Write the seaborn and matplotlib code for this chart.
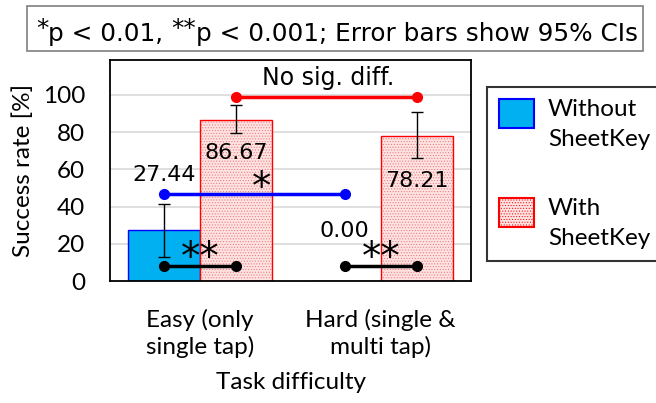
import matplotlib
matplotlib.use("Agg")
import matplotlib.pyplot as plt
import matplotlib.patches as mpatches
import matplotlib.transforms as mtransforms
from matplotlib.legend_handler import HandlerPatch
import seaborn as sns
import pandas as pd

# ---- data ----
categories = ["Easy (only\nsingle tap)", "Hard (single &\nmulti tap)"]
conditions = ["Without\nSheetKey", "With\nSheetKey"]
without_vals = [27.44, 0.00]
with_vals = [86.67, 78.21]
without_ci_low = [12.9, 0.0]
without_ci_high = [41.4, 0.0]
with_ci_low = [79.6, 66.1]
with_ci_high = [94.6, 90.9]
yticks = [0, 20, 40, 60, 80, 100]

df = pd.DataFrame({
    "difficulty": categories * 2,
    "condition": [conditions[0]] * 2 + [conditions[1]] * 2,
    "rate": without_vals + with_vals,
})

sns.set_style("white")
plt.rcParams["text.color"] = "black"
plt.rcParams["axes.labelcolor"] = "black"
plt.rcParams["xtick.color"] = "black"
plt.rcParams["ytick.color"] = "black"
plt.rcParams["hatch.linewidth"] = 0.4
CAL = ["Lato", "DejaVu Sans"]
TAH = ["DejaVu Sans"]
FS_CAL = 17.5

fig = plt.figure(figsize=(6.56, 4.03), dpi=100)
ax = fig.add_axes([110 / 656, 1 - 281 / 403, 361 / 656, 221 / 403])

blue_fill, blue_edge = "#00b0f0", "#0000ff"
red_fill, red_edge = "#fde2e2", "#ff0000"

sns.barplot(data=df, x="difficulty", y="rate", hue="condition",
            palette=[blue_fill, red_fill], width=0.8, ax=ax,
            errorbar=None, legend=False, saturation=1)

n = len(categories)
patches = ax.patches
for i, p in enumerate(patches[:2 * n]):
    if i < n:
        p.set_edgecolor(blue_edge)
        p.set_linewidth(1.0)
    else:
        p.set_edgecolor(red_edge)
        p.set_linewidth(1.0)
        p.set_hatch("......")
        p._hatch_color = matplotlib.colors.to_rgba("#f07070")

# error bars
xs_without = [p.get_x() + p.get_width() / 2 for p in patches[:n]]
xs_with = [p.get_x() + p.get_width() / 2 for p in patches[n:2 * n]]
for xs, vals, lo, hi in [(xs_without, without_vals, without_ci_low, without_ci_high),
                         (xs_with, with_vals, with_ci_low, with_ci_high)]:
    for x, v, l, h in zip(xs, vals, lo, hi):
        if h - l <= 0:
            continue
        ax.errorbar(x, v, yerr=[[v - l], [h - v]], fmt="none", ecolor="black",
                    elinewidth=1.0, capsize=4, capthick=1.0, zorder=5)

# significance lines
def sigline(x0, x1, y, color):
    ax.plot([x0, x1], [y, y], color=color, lw=2.5, marker="o", ms=7,
            zorder=6, solid_capstyle="butt")

sigline(xs_without[0], xs_without[1], 46.8, "#0000ff")
sigline(xs_with[0], xs_with[1], 99.0, "#ff0000")
sigline(xs_without[0], xs_with[0], 7.8, "black")
sigline(xs_without[1], xs_with[1], 7.8, "black")

# value labels
fs_num = 16
ax.text(xs_without[0], 57, f"{without_vals[0]:.2f}", ha="center", va="center",
        fontsize=fs_num, family=TAH, zorder=7)
ax.text(xs_with[0], 69, f"{with_vals[0]:.2f}", ha="center", va="center",
        fontsize=fs_num, family=TAH, zorder=7)
ax.text(xs_without[1], 27, f"{without_vals[1]:.2f}", ha="center", va="center",
        fontsize=fs_num, family=TAH, zorder=7)
ax.text(xs_with[1], 54, f"{with_vals[1]:.2f}", ha="center", va="center",
        fontsize=fs_num, family=TAH, zorder=7)

# significance markers
ax.text(0.34, 50, "*", ha="center", va="center",
        fontsize=28, family=TAH, zorder=7)
ax.text(0, 12.5, "**", ha="center", va="center", fontsize=28, family=TAH, zorder=7)
ax.text(1, 12.5, "**", ha="center", va="center", fontsize=28, family=TAH, zorder=7)
ax.text(0.71, 109, "No sig. diff.", ha="center", va="center", fontsize=17,
        family=TAH, zorder=7)

# axes styling
ax.set_xlim(-0.5, 1.5)
ax.set_ylim(0, 118.8)
ax.set_yticks(yticks)
ax.set_yticklabels([str(t) for t in yticks], fontsize=FS_CAL, family=CAL)
ax.tick_params(axis="y", direction="out", length=6, width=1, color="black", pad=12)
ax.tick_params(axis="x", length=0, pad=20)
for lab in ax.get_xticklabels():
    lab.set_fontsize(FS_CAL)
    lab.set_family(CAL)
    lab.set_linespacing(1.3)
for y in yticks[1:]:
    ax.axhline(y, color="#d9d9d9", lw=1.2, zorder=0)
ax.set_axisbelow(True)
for s in ax.spines.values():
    s.set_visible(True)
    s.set_color("black")
    s.set_linewidth(1.3)
ax.set_ylabel("Success rate [%]", fontsize=FS_CAL, family=CAL, labelpad=6)
ax.set_xlabel("Task difficulty", fontsize=FS_CAL, family=CAL, labelpad=10)

# legend
def make_square(legend, orig_handle, xdescent, ydescent, width, height, fontsize):
    return mpatches.Rectangle((-xdescent, -ydescent + 8), width, height)

h1 = mpatches.Patch(facecolor=blue_fill, edgecolor=blue_edge, linewidth=1.5)
h2 = mpatches.Patch(facecolor=red_fill, edgecolor=red_edge, linewidth=1.5, hatch="......")
leg = fig.legend([h1, h2], conditions, loc="upper left",
                 bbox_to_anchor=(487 / 656, 1 - 87 / 403),
                 prop={"family": CAL, "size": FS_CAL}, frameon=True, fancybox=False,
                 handlelength=1.45, handleheight=1.45, handletextpad=0.55,
                 labelspacing=2.0, borderpad=0.5, borderaxespad=0,
                 handler_map={mpatches.Patch: HandlerPatch(patch_func=make_square)})
for t in leg.get_texts():
    t.set_linespacing(1.5)
leg.get_frame().set_edgecolor("black")
leg.get_frame().set_linewidth(1.5)

# title box with raised asterisks
FS_T = 17.8
title_parts = ["*", "p < 0.01, ", "**", "p < 0.001; Error bars show 95% CIs"]
raises = [5, 0, 5, 0]
title_texts = [fig.text(0, 0, s, fontsize=FS_T, family=TAH) for s in title_parts]
fig.canvas.draw()
renderer = fig.canvas.get_renderer()
x_px = 36
base_y = 403 - 41
for t, r in zip(title_texts, raises):
    t.set_transform(mtransforms.IdentityTransform())
    t.set_position((x_px, base_y + r))
    t.set_va("baseline")
    t.set_ha("left")
    bb = t.get_window_extent(renderer)
    x_px += bb.width

fig.patches.append(mpatches.Rectangle((27 / 656, 1 - 51 / 403), 616 / 656, 45 / 403,
                                      transform=fig.transFigure, facecolor="none",
                                      edgecolor="#7f7f7f", linewidth=1.2))

fig.savefig("out.png", dpi=100)
